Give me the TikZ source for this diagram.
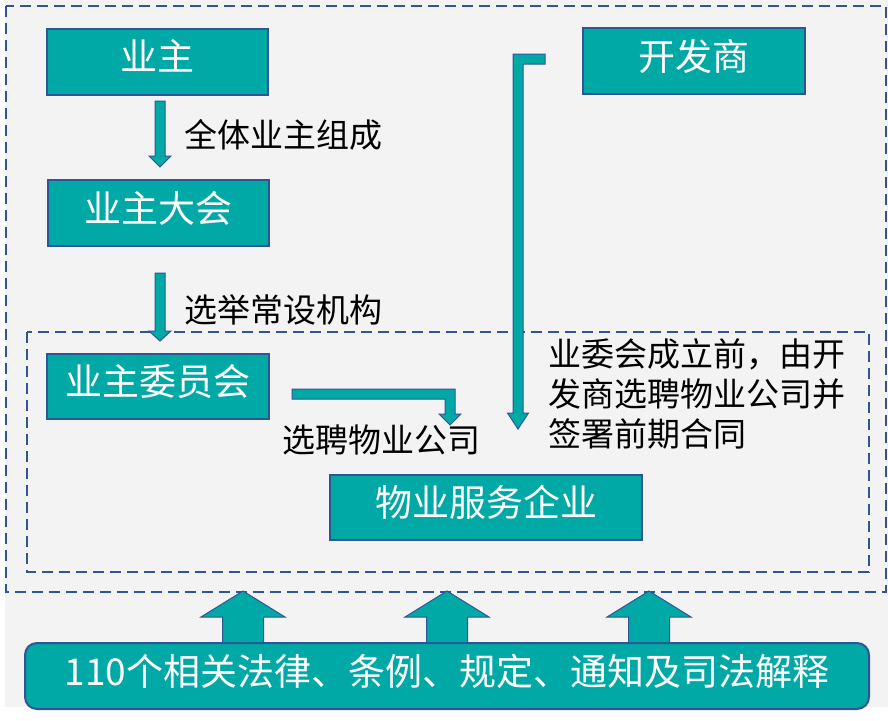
\documentclass[tikz,border=0pt]{standalone}
\usepackage{fontspec}
\setmainfont{Noto Sans CJK SC}
\definecolor{boxfill}{RGB}{0,169,165}
\definecolor{boxline}{RGB}{47,85,151}
\definecolor{bggray}{RGB}{243,243,243}
\tikzset{
  box/.style={draw=boxline, line width=2pt, fill=boxfill, text=white,
    inner sep=0pt, text height=27pt, text depth=9pt,
    font=\fontsize{37}{40}\selectfont},
  note/.style={text=black, inner sep=0pt, anchor=west,
    font=\fontsize{33}{40}\selectfont},
  blockarrow/.style={draw=boxline, line width=1pt, fill=boxfill, line join=miter},
  frame/.style={draw=boxline, line width=2.4pt, dash pattern=on 11pt off 6pt},
}

\begin{document}
\begin{tikzpicture}[x=1pt,y=-1pt]
  \useasboundingbox (0,0) rectangle (888,720);
  \fill[bggray] (5,0) rectangle (888,707);

  % dashed frames
  \draw[frame] (6,6) rectangle (886,592);
  \draw[frame] (27,332) rectangle (869,572);

  % boxes
  \node[box, minimum width=221pt, minimum height=66pt] (yezhu) at (157.5,61.5) {业主};
  \node[box, minimum width=221pt, minimum height=66pt] (dahui) at (158.5,213) {业主大会};
  \node[box, minimum width=222pt, minimum height=65pt] (yeweihui) at (158,386.5) {业主委员会};
  \node[box, minimum width=222pt, minimum height=66pt] (kaifa) at (694,61) {开发商};
  \node[box, minimum width=312pt, minimum height=65pt] (wuye) at (486,507.5) {物业服务企业};
  \node[box, rounded corners=12pt, minimum width=844pt, minimum height=66pt] (fagui)
    at (447,676) {110个相关法律、条例、规定、通知及司法解释};

  % labels
  \node[note] (zucheng) at (184,135) {全体业主组成};
  \node[note] (xuanju) at (184,310) {选举常设机构};
  \node[note] (xuanpin) at (282,440) {选聘物业公司};
  \node[note, align=left] (qianqi) at (548,394)
    {业委会成立前，由开\\发商选聘物业公司并\\签署前期合同};

  % arrows
  \draw[blockarrow] (155,101) -- (165,101) -- (165,156) -- (171,156) -- (160,167)
    -- (149,156) -- (155,156) -- cycle;
  \draw[blockarrow] (155,273) -- (165,273) -- (165,331) -- (171,331) -- (160,341)
    -- (149,331) -- (155,331) -- cycle;
  \draw[blockarrow] (292,389) -- (455,389) -- (455,414) -- (461,414) -- (450,425)
    -- (439,414) -- (445,414) -- (445,399) -- (292,399) -- cycle;
  \draw[blockarrow] (545,54) -- (545,64) -- (523,64) -- (523,413) -- (528.5,413)
    -- (518,429) -- (507.5,413) -- (513,413) -- (513,54) -- cycle;
  \foreach \cx in {243,447,649}
    \draw[blockarrow] (\cx-20.5,642) -- (\cx-20.5,617) -- (\cx-42,617) -- (\cx,591)
      -- (\cx+42,617) -- (\cx+20.5,617) -- (\cx+20.5,642);
\end{tikzpicture}
\end{document}
